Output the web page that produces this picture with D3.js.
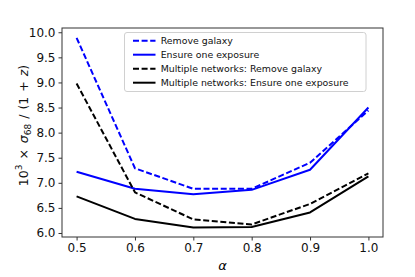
<!DOCTYPE html>
<html><head><meta charset="utf-8">
<script src="https://cdn.jsdelivr.net/npm/d3@7"></script>
<style>body{margin:0;background:#fff}svg{display:block;font-family:"DejaVu Sans",sans-serif}</style>
</head><body><svg id="c" width="415" height="277"></svg>
<script>
const alphas = [0.5, 0.6, 0.7, 0.8, 0.9, 1.0];
const removeGalaxy = [9.89, 7.29, 6.88, 6.88, 7.40, 8.44];
const ensureOne = [7.22, 6.88, 6.77, 6.86, 7.26, 8.50];
const multiRemove = [8.98, 6.81, 6.27, 6.17, 6.58, 7.19];
const multiEnsure = [6.73, 6.28, 6.11, 6.12, 6.41, 7.13];
const xTicks = [0.5, 0.6, 0.7, 0.8, 0.9, 1.0];
const yTicks = [6.0, 6.5, 7.0, 7.5, 8.0, 8.5, 9.0, 9.5, 10.0];
const seriesNames = ["Remove galaxy", "Ensure one exposure", "Multiple networks: Remove galaxy", "Multiple networks: Ensure one exposure"];
const seriesValues = [removeGalaxy, ensureOne, multiRemove, multiEnsure];
const seriesColors = ["#0000ff", "#0000ff", "#000000", "#000000"];
const seriesDashed = [true, false, true, false];

const L = 62, R = 383, T = 28, B = 237;
const svg = d3.select("#c");
const x = d3.scaleLinear().domain([0.475, 1.025]).range([L, R]);
const y = d3.scaleLinear().domain([5.92, 10.085]).range([B, T]);

const line = d3.line().x((d, i) => x(alphas[i])).y(d => y(d));
seriesValues.forEach((vals, k) => {
  svg.append("path").datum(vals).attr("d", line)
    .attr("fill", "none").attr("stroke", seriesColors[k]).attr("stroke-width", 2)
    .attr("stroke-dasharray", seriesDashed[k] ? "6,2.6" : null)
    .attr("stroke-linejoin", "round");
});

// frame
svg.append("rect").attr("x", L).attr("y", T).attr("width", R - L).attr("height", B - T)
  .attr("fill", "none").attr("stroke", "#333").attr("stroke-width", 1);

const xAxis = svg.append("g").attr("transform", `translate(0,${B})`)
  .call(d3.axisBottom(x).tickValues(xTicks).tickFormat(d3.format(".1f")).tickSize(3.5).tickPadding(3));
const yAxis = svg.append("g").attr("transform", `translate(${L},0)`)
  .call(d3.axisLeft(y).tickValues(yTicks).tickFormat(d3.format(".1f")).tickSize(3.5).tickPadding(3));
[xAxis, yAxis].forEach(g => {
  g.select(".domain").remove();
  g.selectAll("line").attr("stroke", "#333");
  g.selectAll("text").attr("font-size", 12).attr("fill", "#111").attr("font-family", "DejaVu Sans");
});

// x label
svg.append("text").attr("x", (L + R) / 2).attr("y", 270).attr("text-anchor", "middle")
  .attr("font-size", 13).attr("font-style", "italic").attr("font-family", "DejaVu Sans").text("α");

// y label
const yl = svg.append("text").attr("transform", `translate(27.5,125.5) rotate(-90)`)
  .attr("text-anchor", "middle").attr("font-size", 12.5).attr("font-family", "DejaVu Sans").attr("fill", "#111");
yl.append("tspan").text("10");
yl.append("tspan").attr("dy", -6).attr("font-size", 9).text("3");
yl.append("tspan").attr("dy", 6).attr("dx", 5).text("×");
yl.append("tspan").attr("dx", 6).attr("font-style", "italic").text("σ");
yl.append("tspan").attr("dy", 3).attr("font-size", 9).text("68");
yl.append("tspan").attr("dy", -3).attr("dx", 5).text("/");
yl.append("tspan").attr("dx", 5).text("(1");
yl.append("tspan").attr("dx", 5).text("+");
yl.append("tspan").attr("dx", 5).attr("font-style", "italic").text("z");
yl.append("tspan").text(")");

// legend
const lg = svg.append("g");
lg.append("rect").attr("x", 124.5).attr("y", 32.5).attr("width", 241.5).attr("height", 59)
  .attr("rx", 2.5).attr("fill", "#fff").attr("fill-opacity", 0.8).attr("stroke", "#d0d0d0").attr("stroke-width", 1);
seriesNames.forEach((name, k) => {
  const yy = 40.7 + k * 14;
  lg.append("line").attr("x1", 133).attr("x2", 155.5).attr("y1", yy).attr("y2", yy)
    .attr("stroke", seriesColors[k]).attr("stroke-width", 2)
    .attr("stroke-dasharray", seriesDashed[k] ? "6,2.6" : null);
  lg.append("text").attr("x", 160.7).attr("y", yy + 3.4).attr("font-size", 9.4)
    .attr("font-family", "DejaVu Sans").attr("fill", "#111").text(name);
});
</script></body></html>
